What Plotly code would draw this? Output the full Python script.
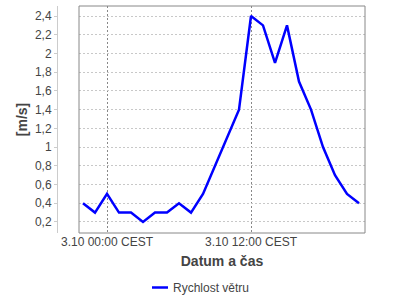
import plotly.graph_objects as go
import pandas as pd

# Data
times = list(pd.date_range("2023-10-02 22:00", periods=24, freq="h"))
speed = [0.4, 0.3, 0.5, 0.3, 0.3, 0.2, 0.3, 0.3, 0.4, 0.3, 0.5, 0.8,
         1.1, 1.4, 2.4, 2.3, 1.9, 2.3, 1.7, 1.4, 1.0, 0.7, 0.5, 0.4]
series_name = "Rychlost větru"
x_tick_vals = ["2023-10-03 00:00", "2023-10-03 12:00"]
x_tick_text = ["3.10 00:00 CEST", "3.10 12:00 CEST"]
x_title = "Datum a čas"
y_title = "[m/s]"

font = "Liberation Sans, Arial, sans-serif"

fig = go.Figure()
fig.add_trace(go.Scatter(x=times, y=speed, mode="lines", name=series_name,
                         line=dict(color="#0000ff", width=2.5), showlegend=False))

L = 57
fig.update_layout(
    width=400, height=300,
    margin=dict(l=L, r=35, t=6, b=67),
    paper_bgcolor="white", plot_bgcolor="white",
    separators=", ",
    font=dict(family=font, size=12, color="#444"),
    xaxis=dict(
        domain=[(79 - L) / (400 - L - 35), 1],
        range=["2023-10-02 21:40", "2023-10-03 21:30"],
        tickvals=x_tick_vals, ticktext=x_tick_text,
        showgrid=True, gridcolor="#888", griddash="2px,2px", gridwidth=1,
        showline=False, zeroline=False, ticks="",
        tickfont=dict(size=12, color="#444"),
        title=dict(text="<b>" + x_title + "</b>", font=dict(size=14, color="#444"), standoff=8),
    ),
    yaxis=dict(
        anchor="free", position=0,
        range=[0.082, 2.507],
        tick0=0.2, dtick=0.2,
        showgrid=True, gridcolor="#c8c8c8", griddash="2px,2px", gridwidth=1,
        showline=True, linecolor="#ccc", linewidth=1,
        ticks="outside", ticklen=3, tickcolor="#ccc",
        zeroline=False,
        tickfont=dict(size=12, color="#444"),
        title=dict(text="<b>" + y_title + "</b>", font=dict(size=14, color="#444"), standoff=3),
    ),
)

fig.add_shape(type="rect", xref="x domain", yref="y domain", x0=0, x1=1, y0=0, y1=1,
              line=dict(color="#888", width=1))

# Legend
fig.add_shape(type="line", xref="paper", yref="paper",
              x0=(152 - L) / 308, x1=(168 - L) / 308, y0=-54.5 / 227, y1=-54.5 / 227,
              line=dict(color="#0000ff", width=2.5))
fig.add_annotation(text=series_name, xref="paper", yref="paper",
                   x=(171 - L) / 308, y=-54.5 / 227, xanchor="left", yanchor="middle",
                   showarrow=False, font=dict(size=12, color="#444"))

fig.write_html("out.html")
